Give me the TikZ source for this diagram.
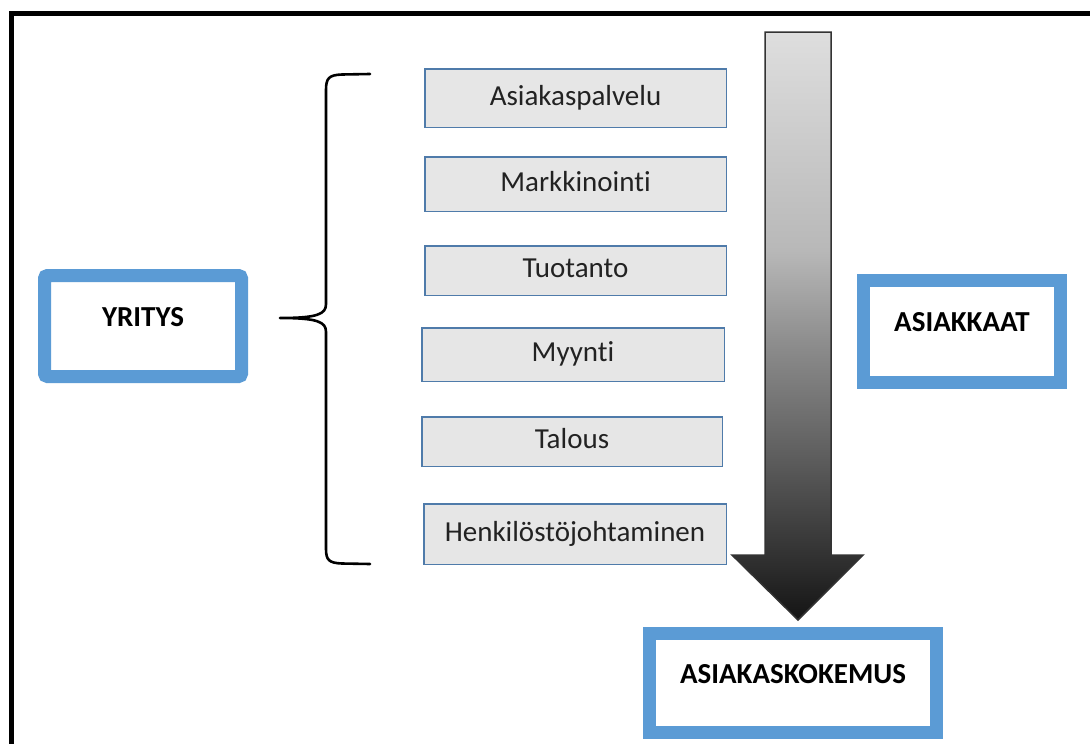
\documentclass[tikz,border=0pt]{standalone}
\usepackage{fontspec}
\setmainfont{Carlito}[Ligatures=NoCommon]
\usetikzlibrary{calc}

\definecolor{keyblue}{HTML}{5B9BD5}
\definecolor{unitedge}{HTML}{4F7BAA}
\definecolor{unitfill}{HTML}{E6E6E6}
\definecolor{inktext}{HTML}{222222}
\definecolor{g20}{RGB}{20,20,20}
\definecolor{g50}{RGB}{50,50,50}
\definecolor{g96}{RGB}{96,96,96}
\definecolor{g138}{RGB}{138,138,138}
\definecolor{g184}{RGB}{184,184,184}
\definecolor{g220}{RGB}{222,222,222}

% light at the top of the arrow, nearly black at its tip
\pgfdeclareverticalshading{downshade}{100bp}{color(0bp)=(g20); color(25bp)=(g20);
  color(30.5bp)=(g50); color(39.4bp)=(g96); color(48bp)=(g138);
  color(56.4bp)=(g184); color(75bp)=(g220); color(100bp)=(g220)}

\tikzset{
  unitbox/.style={draw=unitedge, line width=1.5pt, fill=unitfill, text=inktext,
    font=\fontsize{29}{33}\selectfont, text height=21pt, text depth=7pt,
    inner sep=0pt},
  keybox/.style={draw=keyblue, line width=13pt, fill=white, text=black,
    font=\fontsize{29}{33}\selectfont\bfseries, text height=0pt, text depth=0pt,
    inner sep=0pt},
  bracket/.style={line width=2.6pt, line cap=round, line join=round},
}

\begin{document}
\begin{tikzpicture}[x=1pt, y=-1pt]
  \useasboundingbox (0,0) rectangle (1090,744);
  \clip (0,0) rectangle (1090,744);
  \fill[white] (0,0) rectangle (1090,744);

  % outer frame
  \draw[line width=5pt] (11,13) rectangle (1120,780);

  % company functions
  \node[unitbox, minimum width=301.5pt, minimum height=58.5pt] (u1) at (575.5,98) {Asiakaspalvelu};
  \node[unitbox, minimum width=301.5pt, minimum height=54.5pt] (u2) at (575.5,184) {Markkinointi};
  \node[unitbox, minimum width=301.5pt, minimum height=49.5pt] (u3) at (575.5,270.5) {Tuotanto};
  \node[unitbox, minimum width=302.5pt, minimum height=53.5pt] (u4) at (573,354.5) {Myynti};
  \node[unitbox, minimum width=300.5pt, minimum height=49.5pt] (u5) at (572,441.5) {Talous};
  \node[unitbox, minimum width=302.5pt, minimum height=60.5pt] (u6) at (575,534) {Henkilöstöjohtaminen};

  % main actors
  \node[keybox, rounded corners=3pt, minimum width=197pt, minimum height=101pt] (yritys) at (143,326) {YRITYS};
  \node[keybox, minimum width=197pt, minimum height=102pt] (asiakkaat) at (962,331.5) {ASIAKKAAT};
  \node[keybox, minimum width=287pt, minimum height=99pt] (kokemus) at (793,683) {ASIAKASKOKEMUS};

  % curly bracket grouping the functions
  \coordinate (btop) at (370,74);
  \coordinate (btip) at (280,318);
  \coordinate (bbot) at (370,564);
  \draw[bracket] (btop) -- (342,74.5) .. controls (329,75) and (326,78) .. (326,90)
    -- (326,304) .. controls (326,314) and (318,318) .. (btip)
    .. controls (318,318) and (326,322) .. (326,332)
    -- (326,549) .. controls (326,560) and (329,563) .. (342,563.5) -- (bbot);

  % shaded block arrow towards the customer experience
  \shadedraw[shading=downshade, draw=black!80, line width=1.5pt, line join=miter]
    (765,32) -- (831,32) -- (831,555) -- (863,555) -- (798,620)
    -- (732,555) -- (765,555) -- cycle;
\end{tikzpicture}
\end{document}
